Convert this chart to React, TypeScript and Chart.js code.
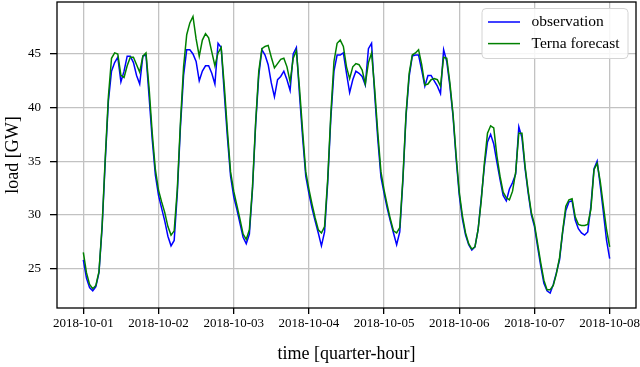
import React, { useEffect, useRef } from "react";
import { Chart, registerables } from "chart.js";

Chart.register(...registerables);

// x tick labels (one per day, every 24 hourly samples)
const dateLabels = [
  "2018-10-01", "2018-10-02", "2018-10-03", "2018-10-04",
  "2018-10-05", "2018-10-06", "2018-10-07", "2018-10-08",
];
const yTicks = [25, 30, 35, 40, 45];
const seriesNames = ["observation", "Terna forecast"];
const seriesColors = ["#0000ff", "#008000"];
const samplesPerDay = 24;

// hourly load [GW]
const observation = [
  25.8, 24.1, 23.2, 22.9, 23.3, 24.6, 28.8, 35.0, 40.6, 43.4, 44.2, 44.7, 42.4, 43.4, 44.8, 44.8, 44.2, 43.0, 42.2, 44.8, 44.9, 41.0, 37.0, 33.7,
  31.8, 30.6, 29.4, 28.0, 27.1, 27.6, 32.0, 38.2, 43.0, 45.4, 45.4, 45.0, 44.3, 42.5, 43.4, 43.9, 43.9, 43.2, 42.2, 46.0, 45.6, 41.3, 37.2, 33.6,
  31.7, 30.5, 29.2, 27.9, 27.3, 28.2, 32.4, 38.4, 43.0, 45.4, 44.9, 44.0, 42.3, 41.0, 42.6, 42.9, 43.4, 42.6, 41.6, 45.0, 45.6, 41.2, 37.2, 33.6,
  32.0, 30.6, 29.4, 28.3, 27.1, 28.4, 33.0, 39.0, 43.4, 44.9, 44.9, 45.1, 43.2, 41.4, 42.6, 43.4, 43.2, 42.9, 42.1, 45.5, 46.0, 41.2, 37.0, 33.5,
  32.0, 30.6, 29.4, 28.3, 27.2, 28.4, 33.2, 39.2, 42.9, 44.8, 44.9, 44.9, 43.5, 42.0, 43.0, 43.0, 42.5, 42.0, 41.3, 45.4, 44.3, 42.0, 39.2, 35.2,
  31.8, 29.6, 28.1, 27.2, 26.7, 27.0, 28.6, 31.5, 34.5, 36.8, 37.5, 36.6, 34.9, 33.3, 31.8, 31.3, 32.4, 33.0, 33.8, 38.2, 37.2, 34.3, 32.0, 30.0,
  28.9, 27.0, 25.2, 23.6, 22.9, 22.7, 23.5, 24.6, 25.8, 28.4, 30.4, 31.2, 31.3, 29.5, 28.7, 28.3, 28.1, 28.4, 30.8, 34.3, 35.0, 32.7, 30.2, 27.6,
  25.9,
];

const ternaForecast = [
  26.5, 24.6, 23.5, 23.1, 23.4, 24.7, 29.0, 35.3, 41.0, 44.6, 45.1, 45.0, 43.0, 42.8, 43.9, 44.7, 44.7, 44.0, 43.3, 44.8, 45.1, 41.8, 37.6, 34.2,
  32.3, 31.2, 30.2, 28.9, 28.1, 28.5, 32.4, 38.6, 43.8, 46.8, 47.9, 48.5, 46.4, 44.8, 46.3, 46.9, 46.5, 45.2, 43.9, 45.1, 45.6, 42.0, 37.8, 34.0,
  32.2, 30.9, 29.6, 28.2, 27.7, 28.6, 32.6, 38.6, 43.4, 45.5, 45.7, 45.8, 44.7, 43.7, 44.1, 44.5, 44.6, 43.8, 42.4, 44.6, 45.3, 41.8, 37.8, 34.0,
  32.4, 31.0, 29.7, 28.6, 28.3, 28.9, 33.3, 39.4, 44.3, 46.0, 46.3, 45.7, 43.8, 42.7, 43.8, 44.1, 44.0, 43.5, 42.2, 44.2, 45.1, 41.7, 37.6, 34.0,
  32.3, 30.9, 29.6, 28.5, 28.3, 28.8, 33.4, 39.4, 43.2, 44.9, 45.1, 45.4, 44.0, 42.1, 42.2, 42.6, 42.7, 42.6, 42.0, 44.7, 44.6, 42.3, 39.4, 35.5,
  32.1, 29.9, 28.3, 27.3, 26.8, 27.0, 28.6, 31.3, 34.8, 37.6, 38.3, 38.1, 35.5, 33.6, 32.1, 31.6, 31.4, 32.2, 34.0, 37.6, 37.6, 34.5, 32.2, 30.2,
  29.1, 27.3, 25.5, 23.9, 23.0, 23.0, 23.4, 24.5, 26.0, 28.5, 30.8, 31.4, 31.5, 29.8, 29.1, 29.0, 29.0, 29.1, 30.5, 34.2, 34.8, 33.1, 30.8, 28.6,
  27.0,
];

const FONT = "'Liberation Serif', 'DejaVu Serif', 'Times New Roman', serif";

export default function App() {
  const ref = useRef<HTMLCanvasElement>(null);

  useEffect(() => {
    if (!ref.current) return;
    const lastX = (dateLabels.length - 1) * samplesPerDay;
    const xPad = lastX * 0.05;

    const framePlugin = {
      id: "frame",
      afterDatasetsDraw(chart: any) {
        const { ctx, chartArea: a } = chart;
        ctx.save();
        ctx.strokeStyle = "#000";
        ctx.lineWidth = 1.3;
        ctx.strokeRect(a.left, a.top, a.right - a.left, a.bottom - a.top);
        ctx.restore();
      },
    };

    const legendPlugin = {
      id: "mplLegend",
      afterDraw(chart: any) {
        const { ctx, chartArea: a } = chart;
        ctx.save();
        const w = 146;
        const h = 50;
        const x0 = a.right - 8 - w;
        const y0 = a.top + 6.5;
        ctx.beginPath();
        (ctx as any).roundRect(x0, y0, w, h, 4);
        ctx.fillStyle = "rgba(255,255,255,0.85)";
        ctx.fill();
        ctx.strokeStyle = "#d4d4d4";
        ctx.lineWidth = 1;
        ctx.stroke();
        seriesNames.forEach((name, i) => {
          const y = y0 + 13.5 + i * 21.6;
          ctx.beginPath();
          ctx.moveTo(x0 + 6, y);
          ctx.lineTo(x0 + 38, y);
          ctx.strokeStyle = seriesColors[i];
          ctx.lineWidth = 1.5;
          ctx.stroke();
          ctx.fillStyle = "#000";
          ctx.font = `15.5px ${FONT}`;
          ctx.textBaseline = "middle";
          ctx.textAlign = "left";
          ctx.fillText(name, x0 + 49.5, y);
        });
        ctx.restore();
      },
    };

    const chart = new Chart(ref.current, {
      type: "line",
      data: {
        datasets: [
          {
            label: seriesNames[0],
            data: observation.map((y, i) => ({ x: i, y })),
            borderColor: seriesColors[0],
            backgroundColor: seriesColors[0],
            borderWidth: 1.5,
            pointRadius: 0,
            tension: 0,
            order: 1,
          },
          {
            label: seriesNames[1],
            data: ternaForecast.map((y, i) => ({ x: i, y })),
            borderColor: seriesColors[1],
            backgroundColor: seriesColors[1],
            borderWidth: 1.5,
            pointRadius: 0,
            tension: 0,
            order: 0,
          },
        ],
      },
      options: {
        animation: false,
        responsive: false,
        maintainAspectRatio: false,
        events: [],
        layout: { padding: { top: 2, right: 4, left: 0, bottom: 0 } },
        plugins: { legend: { display: false }, tooltip: { enabled: false } },
        scales: {
          x: {
            type: "linear",
            min: -xPad,
            max: lastX + xPad,
            afterBuildTicks: (scale: any) => {
              scale.ticks = dateLabels.map((_, i) => ({ value: i * samplesPerDay }));
            },
            afterFit: (scale: any) => {
              scale.height = 59;
              scale.paddingLeft = 0;
              scale.paddingRight = 0;
            },
            ticks: {
              color: "#000",
              font: { family: FONT, size: 13 },
              padding: 2,
              maxRotation: 0,
              autoSkip: false,
              callback: (v: any) => dateLabels[Math.round(Number(v) / samplesPerDay)] ?? "",
            },
            grid: {
              color: "#c2c2c2",
              lineWidth: 1.3,
              tickColor: "#000",
              tickLength: 6,
              tickWidth: 1.3,
            },
            border: { display: false },
            title: {
              display: true,
              text: "time [quarter-hour]",
              color: "#000",
              font: { family: FONT, size: 18 },
              padding: { top: 0, bottom: 2 },
            },
          },
          y: {
            type: "linear",
            min: 21.3,
            max: 49.85,
            afterBuildTicks: (scale: any) => {
              scale.ticks = yTicks.map((v) => ({ value: v }));
            },
            afterFit: (scale: any) => {
              scale.width = 57;
              scale.paddingTop = 0;
              scale.paddingBottom = 0;
            },
            ticks: {
              color: "#000",
              font: { family: FONT, size: 13 },
              padding: 9,
            },
            grid: {
              color: "#c2c2c2",
              lineWidth: 1.3,
              tickColor: "#000",
              tickLength: 7,
              tickWidth: 1.3,
            },
            border: { display: false },
            title: {
              display: true,
              text: "load [GW]",
              color: "#000",
              font: { family: FONT, size: 18 },
              padding: { top: 2, bottom: 0 },
            },
          },
        },
      },
      plugins: [framePlugin, legendPlugin],
    });

    return () => chart.destroy();
  }, []);

  return (
    <div style={{ position: "absolute", left: 0, top: 0, width: 640, height: 367 }}>
      <canvas ref={ref} width={640} height={367} style={{ width: 640, height: 367, display: "block" }} />
    </div>
  );
}
